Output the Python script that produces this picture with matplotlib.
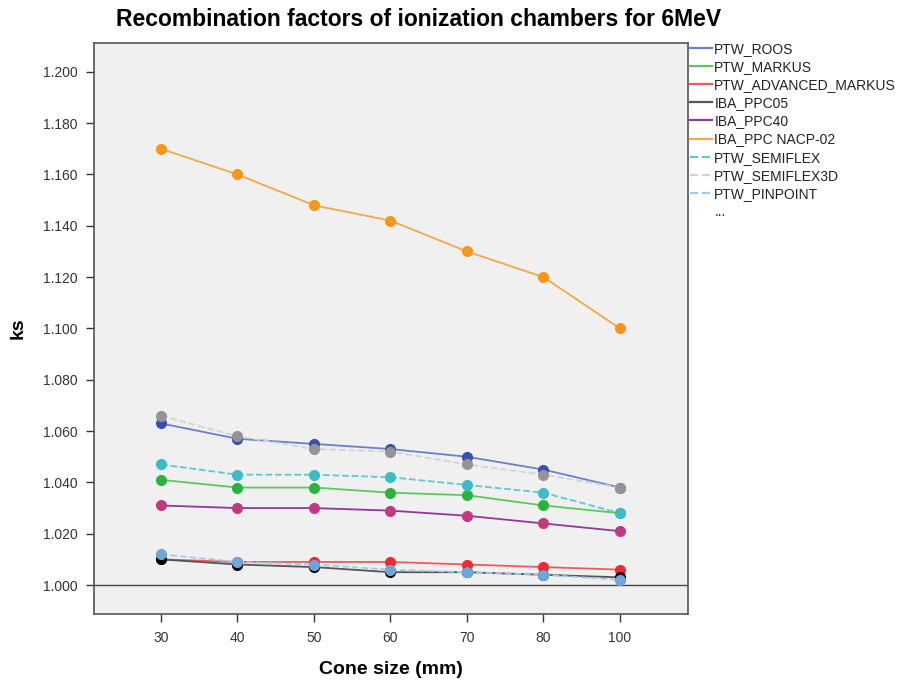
import matplotlib
matplotlib.use("Agg")
import matplotlib.pyplot as plt
from matplotlib.lines import Line2D

plt.rcParams['font.family'] = ['Liberation Sans', 'DejaVu Sans']

cone_sizes = [30, 40, 50, 60, 70, 80, 100]

series_names = ["PTW_ROOS", "PTW_MARKUS", "PTW_ADVANCED_MARKUS", "IBA_PPC05",
                "IBA_PPC40", "IBA_PPC NACP-02", "PTW_SEMIFLEX", "PTW_SEMIFLEX3D",
                "PTW_PINPOINT"]

ptw_roos = [1.063, 1.057, 1.055, 1.053, 1.050, 1.045, 1.038]
ptw_markus = [1.041, 1.038, 1.038, 1.036, 1.035, 1.031, 1.028]
ptw_adv_markus = [1.010, 1.009, 1.009, 1.009, 1.008, 1.007, 1.006]
iba_ppc05 = [1.010, 1.008, 1.007, 1.005, 1.005, 1.004, 1.003]
iba_ppc40 = [1.031, 1.030, 1.030, 1.029, 1.027, 1.024, 1.021]
iba_nacp02 = [1.170, 1.160, 1.148, 1.142, 1.130, 1.120, 1.100]
ptw_semiflex = [1.047, 1.043, 1.043, 1.042, 1.039, 1.036, 1.028]
ptw_semiflex3d = [1.066, 1.058, 1.053, 1.052, 1.047, 1.043, 1.038]
ptw_pinpoint = [1.012, 1.009, 1.008, 1.006, 1.005, 1.004, 1.002]

values = [ptw_roos, ptw_markus, ptw_adv_markus, iba_ppc05, iba_ppc40,
          iba_nacp02, ptw_semiflex, ptw_semiflex3d, ptw_pinpoint]

line_colors = ["#6b7fcc", "#5cc95c", "#f05a5a", "#555555", "#8e3a9a",
               "#f5a845", "#5ccaca", "#d4d4d4", "#a6c8ea"]
marker_colors = ["#3850b0", "#2db33d", "#ee2a36", "#000000", "#c03a82",
                 "#f7961c", "#3cbcc6", "#949494", "#6fa6d8"]
styles = ["-", "-", "-", "-", "-", "-", "--", "--", "--"]

fig = plt.figure(figsize=(9.07, 6.8), dpi=100)
ax = fig.add_axes([0.1036, 0.097, 0.655, 0.840])
ax.set_facecolor("#f0f0f0")

ax.axhline(1.0, color="#444444", lw=1.0, zorder=1)

xpos = list(range(len(cone_sizes)))
handles = []
for name, vals, lc, mc, ls in zip(series_names, values, line_colors, marker_colors, styles):
    ax.plot(xpos, vals, color=lc, ls=ls, lw=1.3, marker="o", ms=7,
            mfc=mc, mec=mc, zorder=3)
    handles.append(Line2D([], [], color=lc, ls=ls, lw=1.6))
handles.append(Line2D([], [], color="none"))
labels = series_names + ["..."]

ax.set_xlim(-0.876, 6.89)
ax.set_ylim(0.9887, 1.2113)
ax.set_xticks(xpos)
ax.set_xticklabels([str(c) for c in cone_sizes])
ax.set_yticks([1.0 + 0.02 * i for i in range(11)])
ax.set_yticklabels([f"{1.0 + 0.02 * i:.3f}" for i in range(11)])
ax.tick_params(axis="both", direction="out", length=5.5, width=1, color="#333333",
               labelsize=10, labelcolor="#333333")
ax.tick_params(axis="x", pad=7)
ax.tick_params(axis="y", pad=6)
for s in ax.spines.values():
    s.set_color("#555555")
    s.set_linewidth(1.2)

ax.set_xlabel("Cone size (mm)", fontsize=14, fontweight="bold", labelpad=11)
ax.set_ylabel("ks", fontsize=14, fontweight="bold", labelpad=12)
fig.text(0.461, 0.972, "Recombination factors of ionization chambers for 6MeV",
         ha="center", va="center", fontsize=16.5, fontweight="bold")

leg = fig.legend(handles, labels, loc="upper left", bbox_to_anchor=(0.7546, 0.947),
                 frameon=False, fontsize=10, handlelength=1.6, handletextpad=0.15,
                 labelspacing=0.3, borderaxespad=0)
for t in leg.get_texts():
    t.set_color("#222222")

fig.savefig("out.png", dpi=100)
